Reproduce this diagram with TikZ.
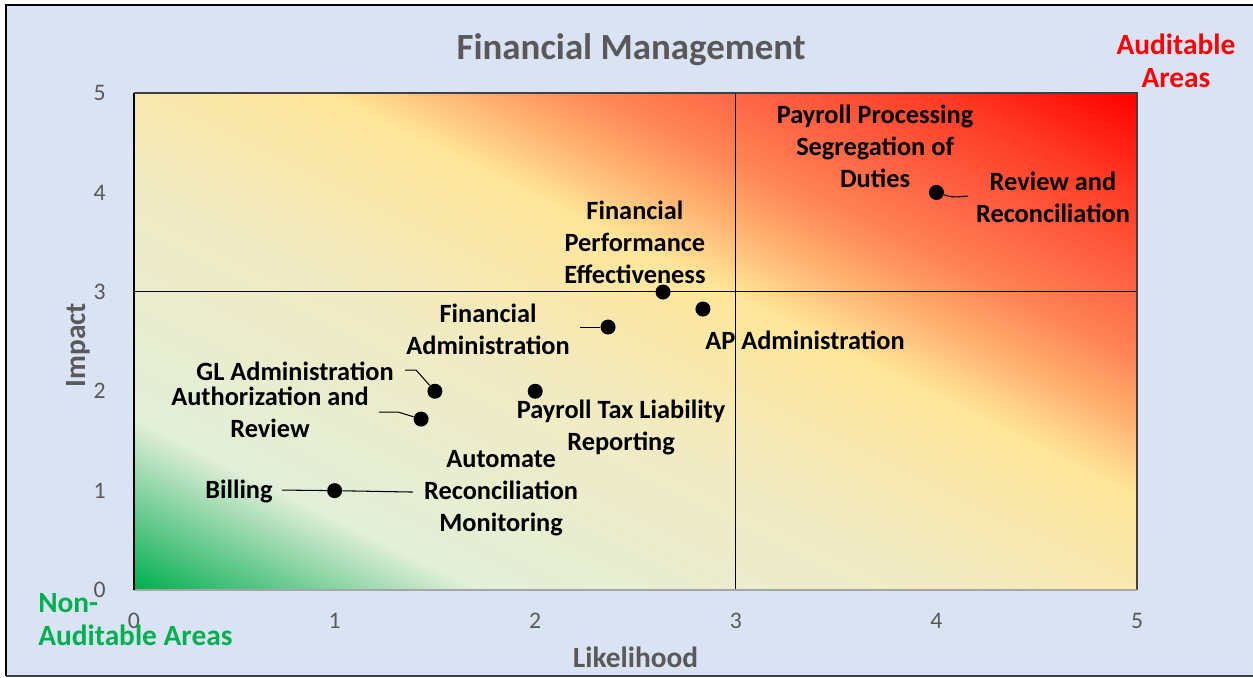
\documentclass[tikz,border=0pt]{standalone}
\usepackage{fontspec}
\setmainfont{Carlito}
\usetikzlibrary{positioning}

\definecolor{chartbg}{HTML}{DAE3F3}
\definecolor{axisgray}{HTML}{595959}
\definecolor{framegray}{HTML}{404040}
\definecolor{riskgreen}{HTML}{00B050}
\definecolor{riskA}{HTML}{00B050}
\definecolor{riskB}{HTML}{6CCB92}
\definecolor{riskC}{HTML}{E2EFD9}
\definecolor{riskD}{HTML}{F1EBC3}
\definecolor{riskE}{HTML}{FFE699}
\definecolor{riskF}{HTML}{FFB070}
\definecolor{riskG}{HTML}{FF8455}
\definecolor{riskH}{HTML}{FF6545}
\definecolor{riskI}{HTML}{FF3A25}
\definecolor{riskJ}{HTML}{FF0000}

% heat map: 14.6bp = bottom left corner, 85.4bp = top right corner
\pgfdeclarehorizontalshading{riskmap}{100bp}{color(0bp)=(riskA); color(14.6bp)=(riskA);
  color(20.3bp)=(riskB); color(26.7bp)=(riskC); color(43.5bp)=(riskD); color(56.8bp)=(riskE);
  color(62bp)=(riskF); color(66.6bp)=(riskG); color(71.4bp)=(riskH); color(78.3bp)=(riskI);
  color(85.4bp)=(riskJ); color(100bp)=(riskJ)}

\begin{document}
\begin{tikzpicture}[x=4.012cm, y=1.988cm,
  dot/.style={circle, fill=black, inner sep=0pt, minimum size=0.3cm},
  lbl/.style={font=\bfseries\fontsize{15}{18.2}\selectfont, align=center},
  tick/.style={text=axisgray, font=\fontsize{13.5}{16}\selectfont, anchor=east},
  axislbl/.style={text=axisgray, font=\bfseries\fontsize{16.7}{19}\selectfont},
  leader/.style={line width=0.6pt}]
\useasboundingbox[fill=white] (-0.668,-0.875) rectangle (5.578,5.936);
\fill[chartbg] (-0.638,-0.865) rectangle (5.6,5.885);
\draw[line width=1pt] (5.6,5.885) -- (-0.638,5.885) -- (-0.638,-0.865);
\draw[framegray, line width=1.2pt] (-0.638,-0.865) -- (5.6,-0.865);

% plot area with quadrants (square shaded, then stretched)
\begin{scope}[transform canvas={xscale=4.012, yscale=1.988}]
\shade[shading=riskmap, shading angle=45] (0,0) rectangle (5cm,5cm);
\end{scope}
\draw[line width=0.6pt] (3,0) -- (3,5) (0,3) -- (5,3);
\draw[framegray, line width=0.9pt] (0,5) -- (5,5) -- (5,0);
\draw[gray!70, line width=0.9pt] (0,0) -- (5,0);
\draw[line width=0.8pt] (0,0) -- (0,5);

% ticks and axis titles
\foreach \v in {0,...,5} {
  \node[tick, anchor=center] (xt\v) at (\v,-0.312) {\v};
  \node[tick] (yt\v) at (-0.11,\v) {\v};
}
\node[font=\bfseries\fontsize{21}{25}\selectfont, text=axisgray] (title) at (2.478,5.433) {Financial Management};
\node[axislbl, rotate=90] (impact) at (-0.279,2.465) {Impact};
\node[axislbl] (likely) at (2.50,-0.674) {Likelihood};
\node[lbl, text=red, font=\bfseries\fontsize{16.7}{18.7}\selectfont] (aud) at (5.194,5.32) {Auditable\\Areas};
\node[lbl, text=riskgreen, align=left, anchor=west, font=\bfseries\fontsize{16.7}{19}\selectfont] (nonaud) at (-0.508,-0.30) {Non-\\Auditable Areas};

% risk items
\node[dot] (ppdot) at (4,4) {};
\node[lbl] (ppsd) at (3.694,4.467) {Payroll Processing\\Segregation of\\Duties};
\node[lbl] (revrec) at (4.581,3.954) {Review and\\Reconciliation};
\coordinate (revrecA) at (4.158,3.964);
\draw[leader] (ppdot) .. controls (4.08,3.95) .. (revrecA);

\node[dot] (fpedot) at (2.637,2.998) {};
\node[lbl] (fpe) at (2.497,3.501) {Financial\\Performance\\Effectiveness};

\node[dot] (apdot) at (2.836,2.827) {};
\node[lbl] (ap) at (3.345,2.515) {AP Administration};

\node[dot] (fadot) at (2.363,2.646) {};
\node[lbl] (fa) at (1.765,2.626) {Financial\\Administration};
\coordinate (faA) at (2.223,2.646);
\draw[leader] (faA) -- (fadot);

\node[dot] (gldot) at (1.5,2.0) {};
\node[lbl] (gl) at (0.803,2.203) {GL Administration};
\coordinate (glA) at (1.351,2.213);
\coordinate (glB) at (1.406,2.213);
\draw[leader] (glA) -- (glB) -- (gldot);

\node[dot] (ardot) at (1.431,1.72) {};
\node[lbl] (ar) at (0.678,1.786) {Authorization and\\Review};
\coordinate (arA) at (1.221,1.791);
\coordinate (arB) at (1.316,1.791);
\draw[leader] (arA) -- (arB) -- (ardot);

\node[dot] (ptldot) at (2,2) {};
\node[lbl] (ptl) at (2.428,1.635) {Payroll Tax Liability\\Reporting};

\node[dot] (bildot) at (1,1) {};
\node[lbl] (bil) at (0.523,0.996) {Billing};
\node[lbl] (arm) at (1.83,0.976) {Automate\\Reconciliation\\Monitoring};
\coordinate (bilA) at (0.738,1.006);
\coordinate (armA) at (1.391,0.986);
\draw[leader] (bilA) -- (bildot) -- (armA);
\end{tikzpicture}
\end{document}
